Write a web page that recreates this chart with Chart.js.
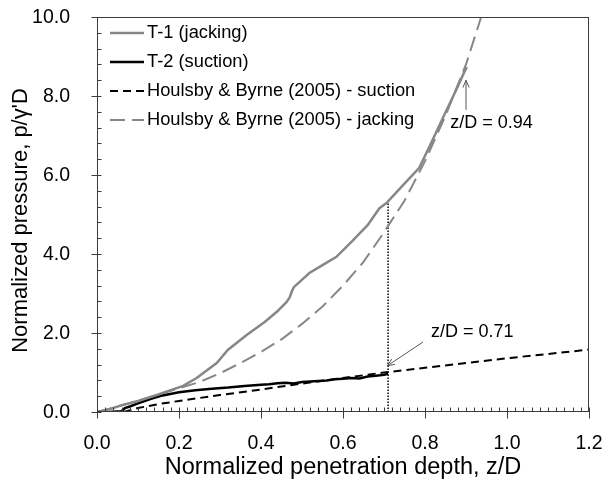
<!DOCTYPE html>
<html>
<head>
<meta charset="utf-8">
<script src="https://cdn.jsdelivr.net/npm/chart.js@4"></script>
<style>
  html, body { margin: 0; padding: 0; background: #fff; }
  #wrap { width: 604px; height: 486px; }
</style>
</head>
<body>
<div id="wrap"><canvas id="Chart" width="604" height="486"></canvas></div>
<script>
// T-1 (jacking) measured pressure
const t1Depth    = [0, 0.03, 0.063, 0.10, 0.146, 0.21, 0.243, 0.292, 0.319, 0.365, 0.409, 0.440, 0.462, 0.470, 0.475, 0.48, 0.518, 0.550, 0.584, 0.623, 0.660, 0.689, 0.706, 0.738, 0.786, 0.815, 0.847, 0.876, 0.896, 0.902];
const t1Pressure = [0, 0.07, 0.18, 0.28, 0.43, 0.66, 0.86, 1.24, 1.57, 1.95, 2.28, 2.55, 2.78, 2.90, 3.05, 3.16, 3.52, 3.72, 3.93, 4.33, 4.73, 5.16, 5.29, 5.65, 6.18, 6.81, 7.52, 8.15, 8.61, 8.73];

// T-2 (suction) measured pressure
const t2Depth    = [0, 0.03, 0.06, 0.068, 0.08, 0.10, 0.13, 0.16, 0.20, 0.24, 0.28, 0.32, 0.36, 0.40, 0.42, 0.44, 0.46, 0.48, 0.50, 0.53, 0.56, 0.58, 0.60, 0.62, 0.64, 0.66, 0.68, 0.70, 0.71];
const t2Pressure = [0, 0, 0.02, 0.10, 0.14, 0.22, 0.33, 0.42, 0.50, 0.55, 0.59, 0.62, 0.66, 0.69, 0.70, 0.73, 0.74, 0.72, 0.76, 0.78, 0.80, 0.83, 0.84, 0.86, 0.85, 0.90, 0.92, 0.94, 0.97];

// Houlsby & Byrne (2005) predictions
const hbSuctionDepth    = [0.065, 0.10, 0.15, 0.20, 0.30, 0.40, 0.50, 0.60, 0.70, 0.80, 0.90, 1.00, 1.10, 1.20];
const hbSuctionPressure = [0.0, 0.10, 0.20, 0.28, 0.43, 0.57, 0.72, 0.86, 1.00, 1.12, 1.24, 1.36, 1.47, 1.58];
const hbJackingDepth    = [0, 0.10, 0.20, 0.25, 0.30, 0.35, 0.40, 0.45, 0.50, 0.55, 0.60, 0.65, 0.70, 0.75, 0.80, 0.85, 0.90, 0.937];
const hbJackingPressure = [0, 0.28, 0.60, 0.76, 0.98, 1.24, 1.52, 1.84, 2.23, 2.67, 3.20, 3.80, 4.55, 5.35, 6.35, 7.50, 8.80, 10.0];

// dotted marker at z/D = 0.71
const markDepth    = [0.71, 0.71];
const markPressure = [0, 5.29];

const seriesLabels = ['T-1 (jacking)', 'T-2 (suction)', 'Houlsby & Byrne (2005) - suction', 'Houlsby & Byrne (2005) - jacking'];
const xTickValues = [0, 0.2, 0.4, 0.6, 0.8, 1.0, 1.2];
const yTickValues = [0, 2, 4, 6, 8, 10];
const xTitle = 'Normalized penetration depth, z/D';
const yTitle = "Normalized pressure, p/γ'D";

const FONT = "'Liberation Sans', Arial, sans-serif";
const AXIS = '#3c3c3c';
const GREY = '#878787';

function pts(xs, ys) {
  return xs.map((v, i) => ({ x: v, y: ys[i] }));
}

// arrows and their captions, placed in data units
const notes = [
  { text: 'z/D = 0.94', tx: 0.962, ty: 7.32, from: [0.90, 7.65], to: [0.90, 8.40] },
  { text: 'z/D = 0.71', tx: 0.915, ty: 2.02, from: [0.795, 1.77], to: [0.708, 1.17] }
];

function arrow(ctx, x1, y1, x2, y2) {
  const ang = Math.atan2(y2 - y1, x2 - x1);
  const h = 8;
  ctx.beginPath();
  ctx.moveTo(x1, y1);
  ctx.lineTo(x2, y2);
  ctx.moveTo(x2 - h * Math.cos(ang - 0.4), y2 - h * Math.sin(ang - 0.4));
  ctx.lineTo(x2, y2);
  ctx.lineTo(x2 - h * Math.cos(ang + 0.4), y2 - h * Math.sin(ang + 0.4));
  ctx.stroke();
}

function seg(ctx, x1, y1, x2, y2) {
  ctx.beginPath();
  ctx.moveTo(x1, y1);
  ctx.lineTo(x2, y2);
  ctx.stroke();
}

const frame = {
  id: 'frame',
  afterDraw(chart) {
    const { ctx, chartArea: a, scales: { x, y } } = chart;
    ctx.save();
    ctx.setLineDash([]);

    // plot box
    ctx.strokeStyle = AXIS;
    ctx.lineWidth = 1;
    const L = Math.round(a.left) + 0.5, R = Math.round(a.right) - 0.5;
    const T = Math.round(a.top) + 0.5, B = Math.round(a.bottom) - 0.5;
    ctx.strokeRect(L, T, R - L, B - T);

    // y ticks: major every 2.0, minor every 0.4
    for (let i = 0; i <= 25; i++) {
      const py = Math.round(y.getPixelForValue(i * 0.4)) + 0.5;
      seg(ctx, i % 5 === 0 ? L - 6 : L, py, L + 4, py);
    }
    // x ticks: major every 0.2, minor every 0.02
    for (let i = 0; i <= 60; i++) {
      const px = Math.round(x.getPixelForValue(i * 0.02)) + 0.5;
      seg(ctx, px, i % 10 === 0 ? B + 7 : B, px, B - 4);
    }

    // tick labels and axis titles
    ctx.fillStyle = '#000';
    ctx.font = '19.5px ' + FONT;
    ctx.textBaseline = 'middle';
    ctx.textAlign = 'right';
    yTickValues.forEach(v => ctx.fillText(v.toFixed(1), a.left - 27, y.getPixelForValue(v) + 1));
    ctx.textAlign = 'center';
    xTickValues.forEach(v => ctx.fillText(v.toFixed(1), x.getPixelForValue(v), a.bottom + 32));
    ctx.font = '23.5px ' + FONT;
    ctx.fillText(xTitle, (a.left + a.right) / 2, a.bottom + 56);
    ctx.font = '22px ' + FONT;
    ctx.save();
    ctx.translate(21, (a.top + a.bottom) / 2 + 6);
    ctx.rotate(-Math.PI / 2);
    ctx.fillText(yTitle, 0, 0);
    ctx.restore();

    // annotations
    ctx.strokeStyle = '#555';
    ctx.lineWidth = 1;
    ctx.font = '18px ' + FONT;
    notes.forEach(n => {
      arrow(ctx, x.getPixelForValue(n.from[0]), y.getPixelForValue(n.from[1]),
                 x.getPixelForValue(n.to[0]), y.getPixelForValue(n.to[1]));
      ctx.fillText(n.text, x.getPixelForValue(n.tx), y.getPixelForValue(n.ty));
    });

    // legend, top-left inside the plot
    ctx.textAlign = 'left';
    ctx.font = '18.3px ' + FONT;
    const rowY = [33, 62, 91, 120];
    chart.data.datasets.slice(0, 4).forEach((ds, i) => {
      ctx.strokeStyle = ds.borderColor;
      ctx.lineWidth = ds.borderWidth;
      ctx.setLineDash(ds.borderDash || []);
      seg(ctx, a.left + 13, rowY[i], a.left + 47, rowY[i]);
      ctx.setLineDash([]);
      ctx.fillText(ds.label, a.left + 50, rowY[i]);
    });
    ctx.restore();
  }
};

const ctx = document.getElementById('Chart').getContext('2d');
new Chart(ctx, {
  type: 'scatter',
  data: {
    datasets: [{
      label: seriesLabels[0],
      data: pts(t1Depth, t1Pressure),
      borderColor: GREY,
      borderWidth: 2.5
    }, {
      label: seriesLabels[1],
      data: pts(t2Depth, t2Pressure),
      borderColor: '#000',
      borderWidth: 2.5
    }, {
      label: seriesLabels[2],
      data: pts(hbSuctionDepth, hbSuctionPressure),
      borderColor: '#000',
      borderWidth: 2,
      borderDash: [8, 5]
    }, {
      label: seriesLabels[3],
      data: pts(hbJackingDepth, hbJackingPressure),
      borderColor: GREY,
      borderWidth: 2,
      borderDash: [15, 7]
    }, {
      label: 'z/D = 0.71',
      data: pts(markDepth, markPressure),
      borderColor: '#000',
      borderWidth: 1.5,
      borderDash: [1.5, 1.5]
    }].map(d => Object.assign({ showLine: true, pointRadius: 0, tension: 0, fill: false }, d))
  },
  options: {
    responsive: false,
    animation: false,
    layout: { autoPadding: false, padding: { top: 17, right: 15, left: 0, bottom: 0 } },
    plugins: { legend: { display: false }, tooltip: { enabled: false } },
    scales: {
      x: {
        type: 'linear',
        min: 0, max: 1.2,
        afterFit: s => { s.height = 74; },
        grid: { display: false, drawTicks: false },
        border: { display: false },
        ticks: { display: false }
      },
      y: {
        type: 'linear',
        min: 0, max: 10,
        afterFit: s => { s.width = 97; },
        grid: { display: false, drawTicks: false },
        border: { display: false },
        ticks: { display: false }
      }
    }
  },
  plugins: [frame]
});
</script>
</body>
</html>
